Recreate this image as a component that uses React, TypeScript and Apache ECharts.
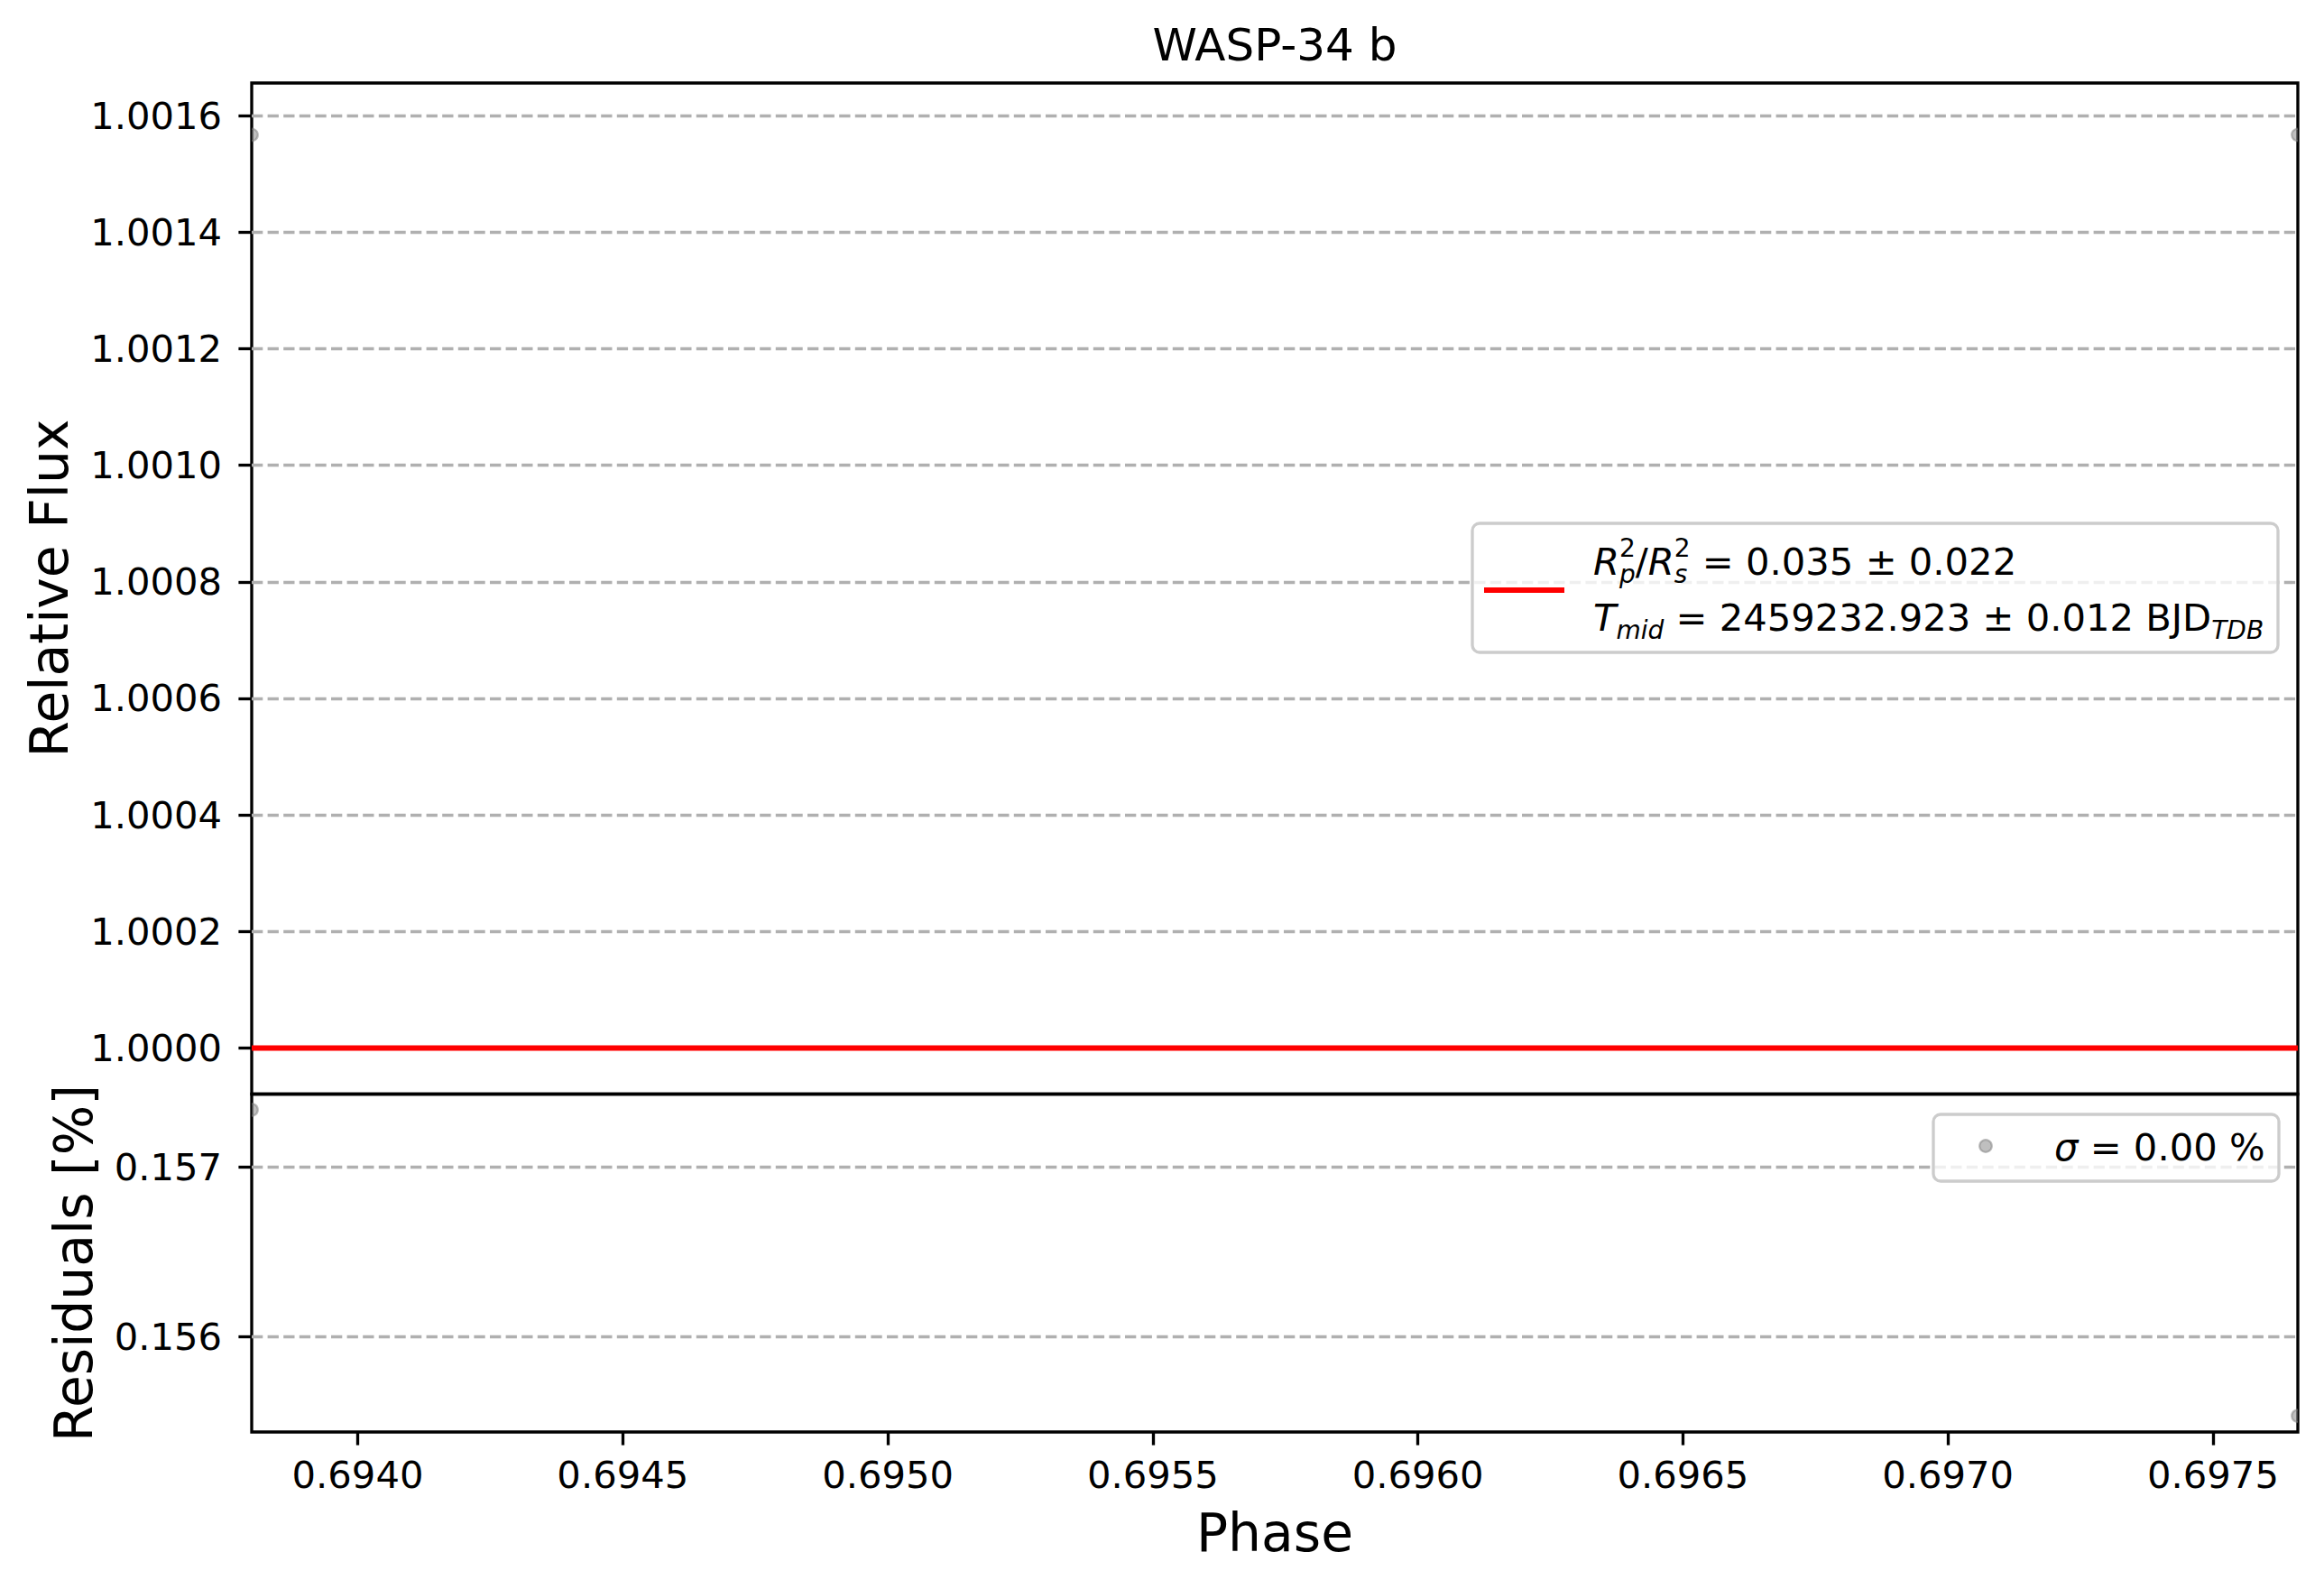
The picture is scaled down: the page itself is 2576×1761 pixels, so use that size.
import React, { useEffect, useRef } from 'react';
import * as echarts from 'echarts';

// data
const PHASE = [0.6938, 0.69766];
const FLUX = [1.001567, 1.001567];
const MODEL = [1.0, 1.0];
const RESIDUALS = [0.15734, 0.15553];

const PHASE_TICKS = [0.694, 0.6945, 0.695, 0.6955, 0.696, 0.6965, 0.697, 0.6975];
const FLUX_TICKS = [1.0, 1.0002, 1.0004, 1.0006, 1.0008, 1.001, 1.0012, 1.0014, 1.0016];
const RESID_TICKS = [0.156, 0.157];

const X_MIN = 0.6938;
const X_MAX = 0.69766;
const FLUX_MIN = 0.999921;
const FLUX_MAX = 1.001656;
const RESID_MIN = 0.155435;
const RESID_MAX = 0.157433;

const FONT = '"DejaVu Sans", Verdana, sans-serif';
const FS = 41.7; // 10pt @ 300dpi
const SCRIPT = 28;
const LW = 3.33;
const DOT = { fill: 'rgba(128,128,128,0.5)', stroke: 'rgba(128,128,128,0.5)', lineWidth: 2.2 };

type Run = { t: string; it?: boolean; s?: 'sub' | 'sup'; hold?: boolean };

// lays out mathtext-like runs left to right (sub/sup pairs stacked)
function layoutRuns(runs: Run[], x0: number, yc: number) {
  const ctx = document.createElement('canvas').getContext('2d')!;
  const out: any[] = [];
  let x = x0;
  let held = 0;
  let heldX = 0;
  runs.forEach((r) => {
    const size = r.s ? SCRIPT : FS;
    ctx.font = `${r.it ? 'italic ' : ''}${size}px ${FONT}`;
    const w = ctx.measureText(r.t).width;
    const dy = r.s === 'sub' ? 14 : r.s === 'sup' ? -15 : 0;
    const px = held ? heldX : x;
    out.push({
      type: 'text',
      z: 110,
      x: px,
      y: yc + dy,
      style: {
        text: r.t,
        fontSize: size,
        fontFamily: FONT,
        fontStyle: r.it ? 'italic' : 'normal',
        fill: '#000',
        align: 'left',
        verticalAlign: 'middle',
      },
    });
    if (r.hold) {
      held = w;
      heldX = x;
    } else if (held) {
      x = heldX + Math.max(held, w);
      held = 0;
    } else {
      x += w;
    }
  });
  return out;
}

const App: React.FC = () => {
  const chartRef = useRef<HTMLDivElement>(null);

  useEffect(() => {
    document.body.style.margin = '0';
    if (!chartRef.current) return;
    const chart = echarts.init(chartRef.current, undefined, { renderer: 'svg' });

    const pointItem = (params: any, api: any) => {
      const p = api.coord([api.value(0), api.value(1)]);
      return {
        type: 'circle',
        shape: { cx: p[0], cy: p[1], r: 6.8 },
        style: DOT,
      };
    };

    const tickStyle = { show: true, inside: false, length: 14.6, lineStyle: { color: '#000', width: LW } };
    const labelStyle = { fontSize: FS, fontFamily: FONT, color: '#000' };
    const gridLine = { show: true, lineStyle: { color: '#b0b0b0', width: LW, type: [12.3, 5.3] } };

    const legendText = [
      ...layoutRuns(
        [
          { t: 'R', it: true },
          { t: 'p', it: true, s: 'sub', hold: true },
          { t: '2', s: 'sup' },
          { t: '/' },
          { t: 'R', it: true },
          { t: 's', it: true, s: 'sub', hold: true },
          { t: '2', s: 'sup' },
          { t: ' = 0.035 ± 0.022' },
        ],
        1766,
        622
      ),
      ...layoutRuns(
        [
          { t: 'T', it: true },
          { t: 'mid', it: true, s: 'sub' },
          { t: ' = 2459232.923 ± 0.012 BJD' },
          { t: 'TDB', it: true, s: 'sub' },
        ],
        1766,
        684
      ),
      ...layoutRuns([{ t: 'σ', it: true }, { t: ' = 0.00 %' }], 2277, 1271),
    ];

    const option = {
      animation: false,
      backgroundColor: '#fff',
      grid: [
        { left: 279, right: 29, top: 92, height: 1120.5, show: true, borderColor: '#000', borderWidth: LW, outerBoundsMode: 'none' },
        { left: 279, right: 29, top: 1212.5, height: 374.5, show: true, borderColor: '#000', borderWidth: LW, outerBoundsMode: 'none' },
      ],
      xAxis: [
        { gridIndex: 0, type: 'value', min: X_MIN, max: X_MAX, show: false },
        {
          gridIndex: 1,
          type: 'value',
          min: X_MIN,
          max: X_MAX,
          axisLine: { show: false },
          axisTick: { ...tickStyle, customValues: PHASE_TICKS },
          axisLabel: { ...labelStyle, margin: 26, customValues: PHASE_TICKS, formatter: (v: number) => v.toFixed(4) },
          splitLine: { show: false },
        },
      ],
      yAxis: [
        {
          gridIndex: 0,
          type: 'value',
          min: FLUX_MIN,
          max: FLUX_MAX,
          axisLine: { show: false },
          axisTick: { ...tickStyle, customValues: FLUX_TICKS },
          axisLabel: { ...labelStyle, margin: 33, customValues: FLUX_TICKS, formatter: (v: number) => v.toFixed(4) },
          splitLine: gridLine,
        },
        {
          gridIndex: 1,
          type: 'value',
          min: RESID_MIN,
          max: RESID_MAX,
          axisLine: { show: false },
          axisTick: { ...tickStyle, customValues: RESID_TICKS },
          axisLabel: { ...labelStyle, margin: 33, customValues: RESID_TICKS, formatter: (v: number) => v.toFixed(3) },
          splitLine: gridLine,
        },
      ],
      series: [
        {
          type: 'custom',
          name: 'data',
          xAxisIndex: 0,
          yAxisIndex: 0,
          clip: true,
          renderItem: pointItem,
          data: PHASE.map((p, i) => [p, FLUX[i]]),
          z: 3,
        },
        {
          type: 'line',
          name: 'model',
          xAxisIndex: 0,
          yAxisIndex: 0,
          showSymbol: false,
          clip: true,
          lineStyle: { color: '#ff0000', width: 6 },
          data: PHASE.map((p, i) => [p, MODEL[i]]),
          z: 4,
        },
        {
          type: 'custom',
          name: 'residuals',
          xAxisIndex: 1,
          yAxisIndex: 1,
          clip: true,
          renderItem: pointItem,
          data: PHASE.map((p, i) => [p, RESIDUALS[i]]),
          z: 3,
        },
      ],
      graphic: [
        {
          type: 'text',
          x: 1413,
          y: 50,
          style: { text: 'WASP-34 b', fontSize: 50, fontFamily: FONT, fill: '#000', align: 'center', verticalAlign: 'middle' },
        },
        {
          type: 'text',
          x: 1413,
          y: 1699,
          style: { text: 'Phase', fontSize: 58.3, fontFamily: FONT, fill: '#000', align: 'center', verticalAlign: 'middle' },
        },
        {
          type: 'text',
          x: 55,
          y: 652,
          rotation: Math.PI / 2,
          style: { text: 'Relative Flux', fontSize: 58.3, fontFamily: FONT, fill: '#000', align: 'center', verticalAlign: 'middle' },
        },
        {
          type: 'text',
          x: 82,
          y: 1400,
          rotation: Math.PI / 2,
          style: { text: 'Residuals [%]', fontSize: 58.3, fontFamily: FONT, fill: '#000', align: 'center', verticalAlign: 'middle' },
        },
        // legend boxes
        {
          type: 'rect',
          z: 100,
          shape: { x: 1632, y: 580, width: 893, height: 143, r: 8 },
          style: { fill: 'rgba(255,255,255,0.8)', stroke: '#cccccc', lineWidth: LW },
        },
        {
          type: 'line',
          z: 105,
          shape: { x1: 1645, y1: 654, x2: 1734, y2: 654 },
          style: { stroke: '#ff0000', lineWidth: 6 },
        },
        {
          type: 'rect',
          z: 100,
          shape: { x: 2143, y: 1235, width: 383, height: 74, r: 8 },
          style: { fill: 'rgba(255,255,255,0.8)', stroke: '#cccccc', lineWidth: LW },
        },
        {
          type: 'circle',
          z: 105,
          shape: { cx: 2201, cy: 1270, r: 6.8 },
          style: DOT,
        },
        ...legendText,
      ],
    };

    chart.setOption(option as any);
    return () => {
      chart.dispose();
    };
  }, []);

  return <div ref={chartRef} style={{ width: '2576px', height: '1761px' }}></div>;
};

export default App;
